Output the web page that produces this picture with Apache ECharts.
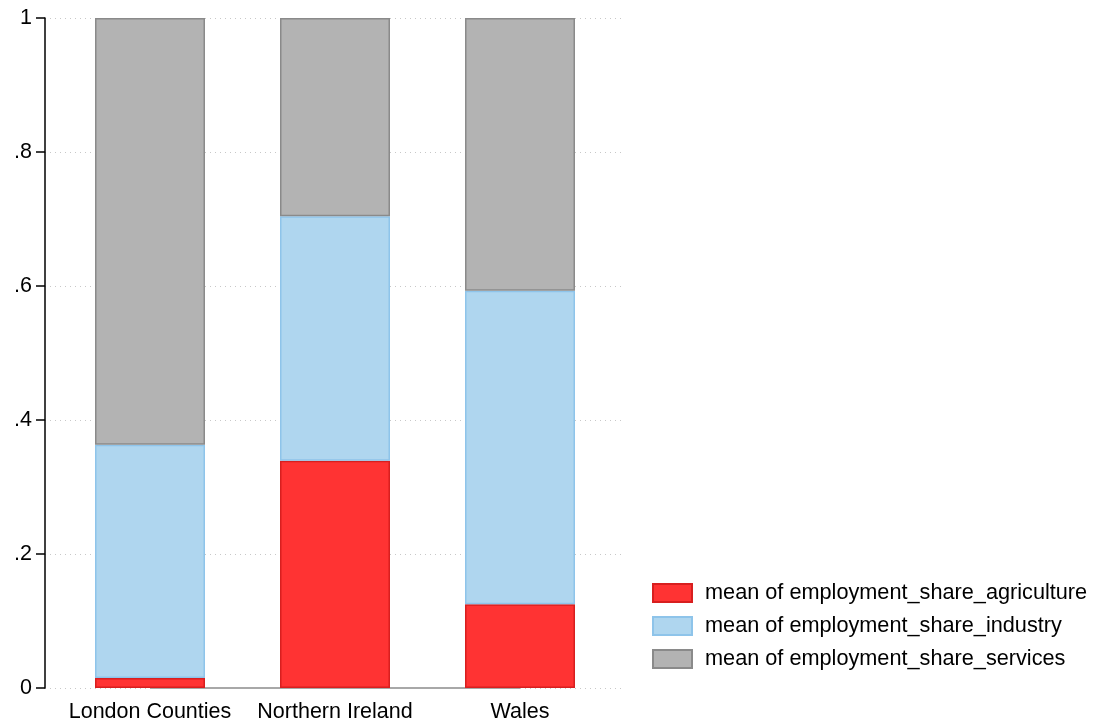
<!DOCTYPE html>
<html><head><meta charset="utf-8">
<script src="https://cdn.jsdelivr.net/npm/echarts@6/dist/echarts.min.js"></script>
<style>html,body{margin:0;padding:0;background:#fff}#c{width:1095px;height:726px}</style>
</head><body><div id="c"></div>
<script>
var categories = ["London Counties", "Northern Ireland", "Wales"];
var agriculture = [0.015, 0.339, 0.125];
var industry = [0.348, 0.365, 0.468];
var services = [0.637, 0.296, 0.407];
var baseline = [0, 0, 0];
var seriesNames = ["mean of employment_share_agriculture", "mean of employment_share_industry", "mean of employment_share_services"];

var font = "Liberation Sans, Arial, sans-serif";
var chart = echarts.init(document.getElementById('c'));
chart.setOption({
  animation: false,
  textStyle: {fontFamily: font},
  grid: [
    {left: 45, right: 470, top: 18, bottom: 38},
    {left: 57.5, right: 482.5, top: 18, bottom: 38}
  ],
  xAxis: [
    {gridIndex: 0, type: 'value', min: 0, max: 1, show: false},
    {gridIndex: 1, type: 'category', data: categories, boundaryGap: true,
     axisLine: {show: false}, axisTick: {show: false}, splitLine: {show: false},
     axisLabel: {color: '#000', fontSize: 21.5, margin: 13, fontFamily: font, interval: 0, hideOverlap: false}}
  ],
  yAxis: [
    {gridIndex: 0, type: 'value', min: 0, max: 1, interval: 0.2,
     axisLine: {show: true, onZero: false, lineStyle: {color: '#000', width: 1.5}},
     axisTick: {show: true, length: 9, lineStyle: {color: '#000', width: 1.5}},
     axisLabel: {color: '#000', fontSize: 21.5, margin: 13, fontFamily: font,
       formatter: function(v){ if (v === 0) return '0'; if (v === 1) return '1'; return v.toFixed(1).replace(/^0/, ''); }},
     splitLine: {show: true, lineStyle: {color: '#c8c8c8', type: [1, 4], width: 1}}},
    {gridIndex: 1, type: 'value', min: 0, max: 1, show: false, splitLine: {show: false}}
  ],
  legend: {
    orient: 'vertical', left: 647, top: 577, itemWidth: 39, itemHeight: 18, itemGap: 11,
    icon: 'rect', data: seriesNames,
    textStyle: {fontSize: 21.7, color: '#000', fontFamily: font, padding: [0,0,0,8]}
  },
  series: [
    {name: seriesNames[0], type: 'bar', stack: 's', barWidth: 110, xAxisIndex: 1, yAxisIndex: 1, data: agriculture,
     itemStyle: {color: '#ff3333', borderColor: '#d81f1f', borderWidth: 1.5}},
    {name: seriesNames[1], type: 'bar', stack: 's', barWidth: 110, xAxisIndex: 1, yAxisIndex: 1, data: industry,
     itemStyle: {color: '#afd6ef', borderColor: '#8ec4ea', borderWidth: 1.5}},
    {name: seriesNames[2], type: 'bar', stack: 's', barWidth: 110, xAxisIndex: 1, yAxisIndex: 1, data: services,
     itemStyle: {color: '#b3b3b3', borderColor: '#8a8a8a', borderWidth: 1.5}},
    {name: 'base', type: 'line', xAxisIndex: 1, yAxisIndex: 1, data: baseline, symbol: 'none', silent: true, z: 1,
     lineStyle: {color: '#a8a8a8', width: 2}}
  ]
});
</script></body></html>
